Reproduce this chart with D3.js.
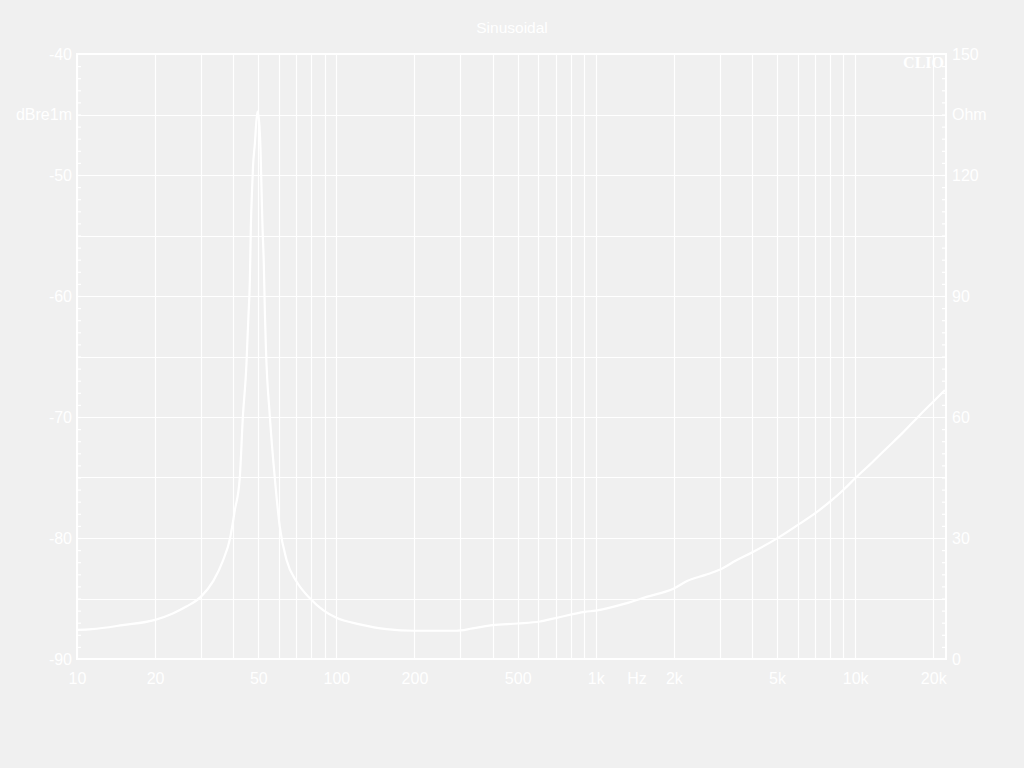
<!DOCTYPE html>
<html>
<head>
<meta charset="utf-8">
<script src="https://cdn.jsdelivr.net/npm/d3@7"></script>
<style>
  html, body { margin: 0; padding: 0; background: #f0f0f0; }
  svg { display: block; }
  text { font-family: "Liberation Sans", Arial, sans-serif; fill: #ffffff; }
</style>
</head>
<body>
<script>
// Impedance sweep (Hz -> Ohm)
const freqs = [10, 11.4, 15, 20, 23.4, 26.4, 30, 33.5, 36.6, 38.9, 40.6, 42.4, 43.6, 45, 45.4, 45.8,
  46.4, 46.8, 47.3, 47.7, 48.5, 49.6, 50.3, 51, 51.5, 51.9, 52.5, 53, 53.5, 55.4, 57.9, 60.5, 64.3,
  70.2, 79.2, 88.9, 100, 123, 156, 200, 290, 335, 401, 500, 609, 706, 907, 1000, 1310, 1570, 2000,
  2260, 2630, 3000, 3470, 4000, 5000, 6000, 7000, 8000, 9000, 10000, 11700, 13200, 15200, 17400,
  20000, 22200];
const ohms = [7.2, 7.4, 8.4, 9.7, 11.3, 13.0, 15.4, 19.3, 24.5, 29.9, 36.9, 44.8, 60.1, 73, 79.1, 84.9,
  94, 107.2, 116.3, 122, 127.8, 135.7, 133.6, 126.2, 115.4, 107.2, 98.1, 86.1, 77, 60.1, 44.8, 32.8, 24.5,
  19.2, 15.0, 12.1, 10.2, 8.6, 7.4, 7.0, 7.0, 7.6, 8.4, 8.8, 9.3, 10.2, 11.7, 12.0, 13.8, 15.4, 17.5,
  19.4, 20.8, 22.1, 24.4, 26.4, 29.9, 33.2, 36.1, 39.0, 41.9, 44.8, 48.9, 52.2, 56.0, 59.9,
  63.8, 66.7];

const freqLabels = [10, 20, 50, 100, 200, 500, 1000, 2000, 5000, 10000, 20000];
const dbTicks = [-40, -50, -60, -70, -80, -90];
const ohmTicks = [0, 30, 60, 90, 120, 150];

const W = 1024, H = 768;
const pL = 77, pR = 946, pT = 54, pB = 659;
const FS = 16;

const svg = d3.select("body").append("svg").attr("width", W).attr("height", H);

const x = d3.scaleLog().domain([10, 22400]).range([pL, pR]);
const yDb = d3.scaleLinear().domain([-90, -40]).range([pB, pT]);
const yOhm = d3.scaleLinear().domain([0, 150]).range([pB, pT]);

// vertical grid: 1..9 per decade
const gridFreqs = [];
[10, 100, 1000, 10000].forEach(d => {
  for (let m = 1; m <= 9; m++) if (d * m <= 22400) gridFreqs.push(d * m);
});
svg.append("g")
  .selectAll("line").data(gridFreqs).enter().append("line")
  .attr("x1", d => Math.round(x(d)) + 0.5).attr("x2", d => Math.round(x(d)) + 0.5)
  .attr("y1", pT).attr("y2", pB)
  .attr("stroke", "#fff").attr("stroke-width", 1.2);

// horizontal grid every 5 dB
svg.append("g")
  .selectAll("line").data(d3.range(-85, -40, 5)).enter().append("line")
  .attr("x1", pL).attr("x2", pR)
  .attr("y1", d => Math.round(yDb(d)) + 0.5).attr("y2", d => Math.round(yDb(d)) + 0.5)
  .attr("stroke", "#fff").attr("stroke-width", 1.2);

// minor ticks, inside the frame
svg.append("g").attr("transform", `translate(${pL},0)`)
  .call(d3.axisRight(yDb).tickValues(d3.range(-89, -40, 1)).tickSize(4).tickFormat(""))
  .call(g => g.select(".domain").remove())
  .selectAll("line").attr("stroke", "#fff").attr("stroke-width", 1.2);
svg.append("g").attr("transform", `translate(${pR},0)`)
  .call(d3.axisLeft(yOhm).tickValues(d3.range(3, 150, 3)).tickSize(4).tickFormat(""))
  .call(g => g.select(".domain").remove())
  .selectAll("line").attr("stroke", "#fff").attr("stroke-width", 1.2);

// frame
svg.append("rect")
  .attr("x", pL).attr("y", pT).attr("width", pR - pL).attr("height", pB - pT)
  .attr("fill", "none").attr("stroke", "#fff").attr("stroke-width", 2);

// axis labels (plain hyphen, as in the original)
const fmtHz = d => d >= 1000 ? (d / 1000) + "k" : String(d);
const styleText = sel => sel.selectAll("text").attr("font-size", FS).attr("fill", "#fff")
  .attr("font-family", "Liberation Sans, Arial, sans-serif");

svg.append("g").attr("transform", `translate(0,${pB})`)
  .call(d3.axisBottom(x).tickValues(freqLabels).tickFormat(fmtHz).tickSize(0).tickPadding(14))
  .call(g => g.select(".domain").remove())
  .call(styleText);

svg.append("g").attr("transform", `translate(${pL},0)`)
  .call(d3.axisLeft(yDb).tickValues(dbTicks).tickFormat(d => String(d)).tickSize(0).tickPadding(5))
  .call(g => g.select(".domain").remove())
  .call(styleText);

svg.append("g").attr("transform", `translate(${pR},0)`)
  .call(d3.axisRight(yOhm).tickValues(ohmTicks).tickFormat(d => String(d)).tickSize(0).tickPadding(6))
  .call(g => g.select(".domain").remove())
  .call(styleText);

// unit labels
svg.append("text").attr("x", pL - 5).attr("y", yDb(-45)).attr("dy", "0.35em")
  .attr("text-anchor", "end").attr("font-size", FS).text("dBre1m");
svg.append("text").attr("x", pR + 6).attr("y", yOhm(135)).attr("dy", "0.35em")
  .attr("text-anchor", "start").attr("font-size", FS).text("Ohm");
svg.append("text").attr("x", 637).attr("y", pB + 14).attr("dy", "0.71em")
  .attr("text-anchor", "middle").attr("font-size", FS).text("Hz");

// title and logo
svg.append("text").attr("x", 512).attr("y", 33)
  .attr("text-anchor", "middle").attr("font-size", 15.5).text("Sinusoidal");
svg.append("text").attr("x", 944).attr("y", 68)
  .attr("text-anchor", "end").attr("font-size", 16).attr("font-weight", "bold")
  .style("font-family", "Liberation Serif, Times New Roman, serif").text("CLIO");

// impedance curve
const pts = freqs.map((f, i) => [f, ohms[i]]);
const line = d3.line()
  .x(d => x(d[0]))
  .y(d => yOhm(d[1]))
  .curve(d3.curveMonotoneX);
svg.append("path").datum(pts)
  .attr("d", line)
  .attr("fill", "none").attr("stroke", "#fff").attr("stroke-width", 2.2);
</script>
</body>
</html>
